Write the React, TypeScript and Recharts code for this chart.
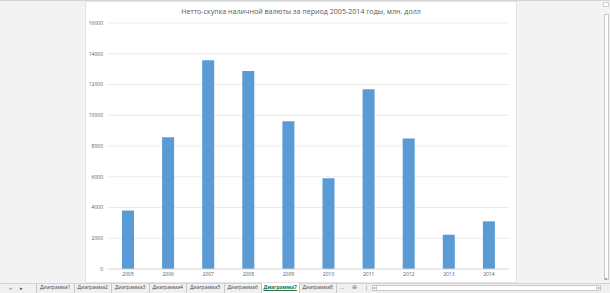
import React from 'react'
import { BarChart, Bar, XAxis, YAxis, CartesianGrid } from 'recharts'

const years = ['2005', '2006', '2007', '2008', '2009', '2010', '2011', '2012', '2013', '2014']
const netPurchase = [3800, 8570, 13580, 12880, 9610, 5900, 11690, 8490, 2230, 3100]
const yTicks = [0, 2000, 4000, 6000, 8000, 10000, 12000, 14000, 16000]
const sheetTabs = ['Диаграмма1', 'Диаграмма2', 'Диаграмма3', 'Диаграмма4', 'Диаграмма5', 'Диаграмма6', 'Диаграмма7', 'Диаграмма8']
const activeTab = 'Диаграмма7'

const chartData = years.map((year, i) => ({ year, value: netPurchase[i] }))

const font = '"Open Sans", "Noto Sans", sans-serif'

export default function App() {
  return (
    <div
      style={{
        position: 'absolute',
        left: 0,
        top: 0,
        width: 610,
        height: 293,
        background: '#f3f3f3',
        fontFamily: font,
        overflow: 'hidden',
      }}
    >
      {/* top border of the sheet area */}
      <div style={{ position: 'absolute', left: 0, top: 0, width: 610, height: 1, background: '#d6d6d6' }} />

      {/* chart sheet */}
      <div
        style={{
          position: 'absolute',
          left: 86,
          top: 2,
          width: 430,
          height: 280,
          background: '#ffffff',
          boxShadow: '0 0 0 1px #e4e4e4',
        }}
      >
        <div
          style={{
            position: 'absolute',
            left: 0,
            top: 4,
            width: 430,
            textAlign: 'center',
            fontSize: 7.1,
            lineHeight: '10px',
            color: '#595959',
            whiteSpace: 'nowrap',
          }}
        >
          Нетто-скупка наличной валюты за период 2005-2014 годы, млн. долл
        </div>
        <BarChart
          width={430}
          height={280}
          data={chartData}
          margin={{ top: 21, right: 7, left: 0, bottom: 0 }}
        >
          <CartesianGrid vertical={false} stroke="#e6e6e6" strokeWidth={0.8} />
          <XAxis
            dataKey="year"
            height={13}
            tickLine={false}
            tickSize={1}
            tickMargin={2}
            axisLine={{ stroke: '#d9d9d9', strokeWidth: 0.8 }}
            tick={{ fontSize: 5, fill: '#595959', fontFamily: font }}
            interval={0}
          />
          <YAxis
            width={22}
            domain={[0, 16000]}
            ticks={yTicks}
            interval={0}
            tickLine={false}
            axisLine={false}
            tickSize={3}
            tickMargin={2}
            tick={{ fontSize: 5, fill: '#595959', fontFamily: font }}
          />
          <Bar dataKey="value" fill="#5b9bd5" barSize={12} isAnimationActive={false} />
        </BarChart>
      </div>

      {/* vertical scrollbar */}
      <div style={{ position: 'absolute', left: 603, top: 2, width: 6, height: 5, border: '1px solid #cfcfcf', background: '#fff', boxSizing: 'border-box' }} />
      <div style={{ position: 'absolute', left: 604, top: 14, width: 5, height: 266, border: '1px solid #c8c8c8', background: '#fff', boxSizing: 'border-box' }} />
      <div style={{ position: 'absolute', left: 603, top: 276, width: 6, height: 5, fontSize: 4, color: '#777', textAlign: 'center', lineHeight: '5px' }}>▾</div>

      {/* sheet tab bar */}
      <div style={{ position: 'absolute', left: 0, top: 283, width: 610, height: 10, background: '#f0f0f0', borderTop: '1px solid #d4d4d4', boxSizing: 'border-box' }} />
      <div style={{ position: 'absolute', left: 9, top: 284, fontSize: 5, color: '#9a9a9a', lineHeight: '8px' }}>◂</div>
      <div style={{ position: 'absolute', left: 20, top: 284, fontSize: 5, color: '#4a4a4a', lineHeight: '8px' }}>▸</div>
      {sheetTabs.map((tab, i) => {
        const active = tab === activeTab
        return (
          <div
            key={tab}
            style={{
              position: 'absolute',
              left: 36 + i * 37.5,
              top: 283,
              width: 37.5,
              height: 10,
              boxSizing: 'border-box',
              borderLeft: '1px solid #c8c8c8',
              background: active ? '#ffffff' : 'transparent',
              fontSize: 5,
              lineHeight: '9px',
              textAlign: 'center',
              color: active ? '#217346' : '#444',
              fontWeight: active ? 700 : 400,
              textDecoration: active ? 'underline' : 'none',
              whiteSpace: 'nowrap',
            }}
          >
            {tab}
          </div>
        )
      })}
      <div style={{ position: 'absolute', left: 336, top: 283, width: 1, height: 10, background: '#c8c8c8' }} />
      <div style={{ position: 'absolute', left: 340, top: 283, fontSize: 5, color: '#666', lineHeight: '9px' }}>... </div>
      <div style={{ position: 'absolute', left: 352, top: 283, fontSize: 6, color: '#777', lineHeight: '9px' }}>⊕</div>
      <div style={{ position: 'absolute', left: 366, top: 285, width: 1, height: 6, background: '#c8c8c8' }} />
      {/* horizontal scrollbar */}
      <div style={{ position: 'absolute', left: 372, top: 285, width: 229, height: 6, border: '1px solid #c8c8c8', background: '#fff', boxSizing: 'border-box' }} />
      <div style={{ position: 'absolute', left: 372, top: 285, width: 5, height: 6, fontSize: 4, color: '#777', lineHeight: '6px', textAlign: 'center', borderRight: '1px solid #c8c8c8', boxSizing: 'border-box' }}>◂</div>
      <div style={{ position: 'absolute', left: 596, top: 285, width: 5, height: 6, fontSize: 4, color: '#777', lineHeight: '6px', textAlign: 'center', borderLeft: '1px solid #c8c8c8', boxSizing: 'border-box' }}>▸</div>
    </div>
  )
}
